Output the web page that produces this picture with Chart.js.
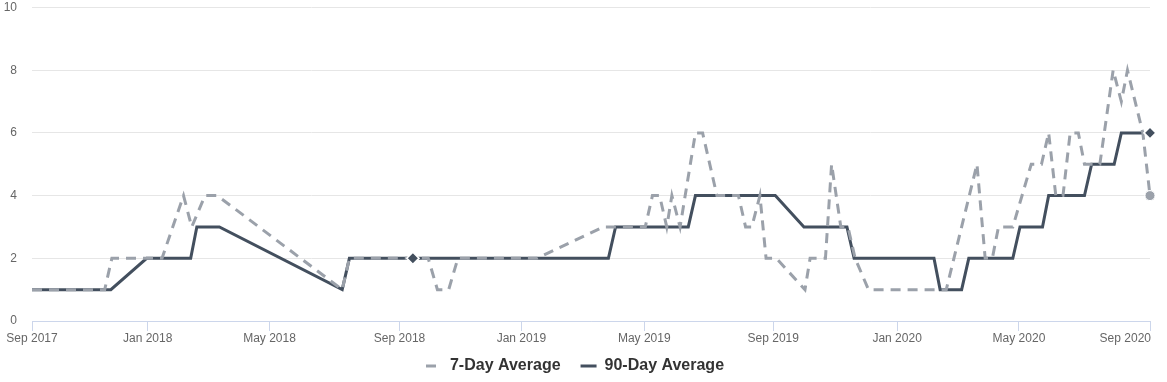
<!DOCTYPE html>
<html>
<head>
<meta charset="utf-8">
<script src="https://cdn.jsdelivr.net/npm/chart.js@4.4.1/dist/chart.umd.min.js"></script>
<style>
  html, body { margin: 0; padding: 0; background: #ffffff; }
  #wrap { width: 1167px; height: 382px; position: relative; }
</style>
</head>
<body>
<div id="wrap"><canvas id="chart"></canvas></div>
<script>
// ---- data ----
const sevenDayDates = [
  '2017-09-10','2017-11-20','2017-11-27','2018-01-15','2018-02-05','2018-02-13','2018-02-26','2018-03-10',
  '2018-07-10','2018-07-17','2018-10-02','2018-10-11','2018-10-22','2018-10-31','2019-01-16','2019-03-22',
  '2019-05-02','2019-05-09','2019-05-16','2019-05-23','2019-05-28','2019-06-05','2019-06-20','2019-06-27',
  '2019-07-11','2019-08-01','2019-08-08','2019-08-14','2019-08-22','2019-08-28','2019-09-07','2019-10-05',
  '2019-10-10','2019-10-25','2019-10-31','2019-11-09','2019-11-16','2019-11-23','2019-12-06','2020-02-20',
  '2020-03-21','2020-03-29','2020-04-05','2020-04-11','2020-04-25','2020-05-13','2020-05-23','2020-05-30',
  '2020-06-06','2020-06-13','2020-06-20','2020-06-28','2020-07-04','2020-07-19','2020-08-01','2020-08-09',
  '2020-08-15','2020-08-30','2020-09-06'
];
const sevenDayValues = [
  1,1,2,2,4,3,4,4,
  1,2,2,1,1,2,2,3,
  3,4,4,3,4,3,6,6,
  4,4,3,3,4,2,2,1,
  2,2,5,3,3,2,1,1,
  5,2,2,3,3,5,5,6,
  4,4,6,6,5,5,8,7,
  8,6,4
];
const ninetyDayDates = [
  '2017-09-10','2017-11-26','2017-12-31','2018-02-12','2018-02-18','2018-03-12','2018-07-10','2018-07-17',
  '2018-09-17','2019-03-27','2019-04-03','2019-06-13','2019-06-20','2019-09-06','2019-10-04','2019-11-15',
  '2019-11-22','2020-02-08','2020-02-14','2020-03-06','2020-03-13','2020-04-25','2020-05-02','2020-05-24',
  '2020-05-30','2020-07-04','2020-07-11','2020-08-02','2020-08-09','2020-08-29','2020-09-06'
];
const ninetyDayValues = [
  1,1,2,2,3,3,1,2,
  2,2,3,3,4,4,3,3,
  2,2,1,1,2,2,3,3,
  4,4,5,5,6,6,6
];
const ninetyDayMarkedDates = ['2018-09-17'];
const tickDates = ['2017-09-10','2018-01-01','2018-04-30','2018-09-04','2019-01-01','2019-05-01','2019-09-04','2020-01-03','2020-05-01','2020-09-06'];
const tickLabels = ['Sep 2017','Jan 2018','May 2018','Sep 2018','Jan 2019','May 2019','Sep 2019','Jan 2020','May 2020','Sep 2020'];
const seriesNames = ['7-Day Average', '90-Day Average'];

// ---- helpers ----
const toMs = s => Date.UTC(+s.slice(0, 4), +s.slice(5, 7) - 1, +s.slice(8, 10));
const toPoints = (dates, values) => dates.map((d, i) => ({ x: toMs(d), y: values[i] }));
const tickMs = tickDates.map(toMs);
const FONT = "'Liberation Sans', Arial, Helvetica, sans-serif";
const COLOR_7 = '#9ba1aa';
const COLOR_90 = '#434f5e';
const LEGEND_SHIFT = 11;

const sevenPts = toPoints(sevenDayDates, sevenDayValues);
const ninetyPts = toPoints(ninetyDayDates, ninetyDayValues);

const layoutTweaks = {
  id: 'layoutTweaks',
  // legend box grows upward so its row sits closer to the axis labels
  afterLayout(chart) {
    const lg = chart.legend;
    if (lg) { lg.top -= LEGEND_SHIFT; lg.height += LEGEND_SHIFT; }
  },
  // last x label kept inside the canvas (right aligned on its tick)
  beforeDraw(chart) {
    const s = chart.scales.x;
    if (!s || typeof s.getLabelItems !== 'function') return;
    const items = s.getLabelItems(chart.chartArea);
    const last = items[items.length - 1];
    if (last && last.options) {
      last.options.textAlign = 'right';
      if (last.options.translation) last.options.translation[0] = s.right + 1;
    }
  },
  // markers sit above every line
  afterDatasetsDraw(chart) {
    const ctx = chart.ctx;
    const area = { left: 0, top: 0, right: chart.width, bottom: chart.height };
    chart.data.datasets.forEach((ds, di) => {
      const meta = chart.getDatasetMeta(di);
      if (meta.hidden) return;
      meta.data.forEach(pt => {
        if (pt.options && pt.options.radius > 0) pt.draw(ctx, area);
      });
    });
  }
};

new Chart(document.getElementById('chart'), {
  type: 'line',
  data: {
    datasets: [
      {
        label: seriesNames[0],
        data: sevenPts,
        borderColor: COLOR_7,
        backgroundColor: COLOR_7,
        borderWidth: 3,
        borderDash: [10, 7],
        tension: 0,
        fill: false,
        clip: 12,
        pointStyle: 'circle',
        pointRadius: c => (c.dataIndex === sevenPts.length - 1 ? 5 : 0),
        pointBackgroundColor: COLOR_7,
        pointBorderColor: '#ffffff',
        pointBorderWidth: 1,
        pointHoverRadius: 0
      },
      {
        label: seriesNames[1],
        data: ninetyPts,
        borderColor: COLOR_90,
        backgroundColor: COLOR_90,
        borderWidth: 3,
        tension: 0,
        fill: false,
        clip: 12,
        pointStyle: 'rectRot',
        pointRadius: c => (c.dataIndex === ninetyPts.length - 1 ||
          ninetyDayMarkedDates.includes(ninetyDayDates[c.dataIndex]) ? 6 : 0),
        pointBackgroundColor: COLOR_90,
        pointBorderColor: '#ffffff',
        pointBorderWidth: 1.5,
        pointHoverRadius: 0
      }
    ]
  },
  options: {
    responsive: true,
    maintainAspectRatio: false,
    animation: false,
    events: [],
    layout: { padding: { top: 0, left: 0, right: 17, bottom: 0 } },
    scales: {
      x: {
        type: 'linear',
        min: tickMs[0],
        max: tickMs[tickMs.length - 1],
        afterBuildTicks: s => { s.ticks = tickMs.map(v => ({ value: v })); },
        afterFit: s => { s.height = 28; s.paddingRight = 0; s.paddingLeft = 0; },
        grid: { display: true, drawOnChartArea: false, drawTicks: true, tickLength: 10, color: '#ccd6eb', tickColor: '#ccd6eb' },
        border: { display: true, color: '#ccd6eb', width: 1 },
        ticks: {
          autoSkip: false,
          maxRotation: 0,
          minRotation: 0,
          padding: 0,
          color: '#666666',
          font: { family: FONT, size: 12 },
          callback: v => { const i = tickMs.indexOf(v); return i >= 0 ? tickLabels[i] : ''; }
        }
      },
      y: {
        min: 0,
        max: 10,
        afterFit: s => { s.width = 32; s.paddingTop = 6; s.paddingBottom = 0; },
        grid: { color: '#e6e6e6', lineWidth: 1, drawTicks: false },
        border: { display: false },
        ticks: {
          stepSize: 2,
          padding: 15,
          color: '#666666',
          font: { family: FONT, size: 12 }
        }
      }
    },
    plugins: {
      legend: {
        position: 'bottom',
        maxHeight: 33,
        labels: {
          usePointStyle: true,
          pointStyle: 'line',
          pointStyleWidth: 16,
          padding: 20,
          color: '#333333',
          font: { family: FONT, size: 16, weight: 'bold' },
          generateLabels: chart => Chart.defaults.plugins.legend.labels.generateLabels(chart).map(it => {
            const ds = chart.data.datasets[it.datasetIndex];
            return Object.assign({}, it, {
              strokeStyle: ds.borderColor,
              fillStyle: ds.borderColor,
              lineWidth: ds.borderWidth,
              lineDash: ds.borderDash || [],
              lineDashOffset: 0,
              pointStyle: 'line'
            });
          })
        }
      },
      tooltip: { enabled: false }
    }
  },
  plugins: [layoutTweaks]
});
</script>
</body>
</html>
